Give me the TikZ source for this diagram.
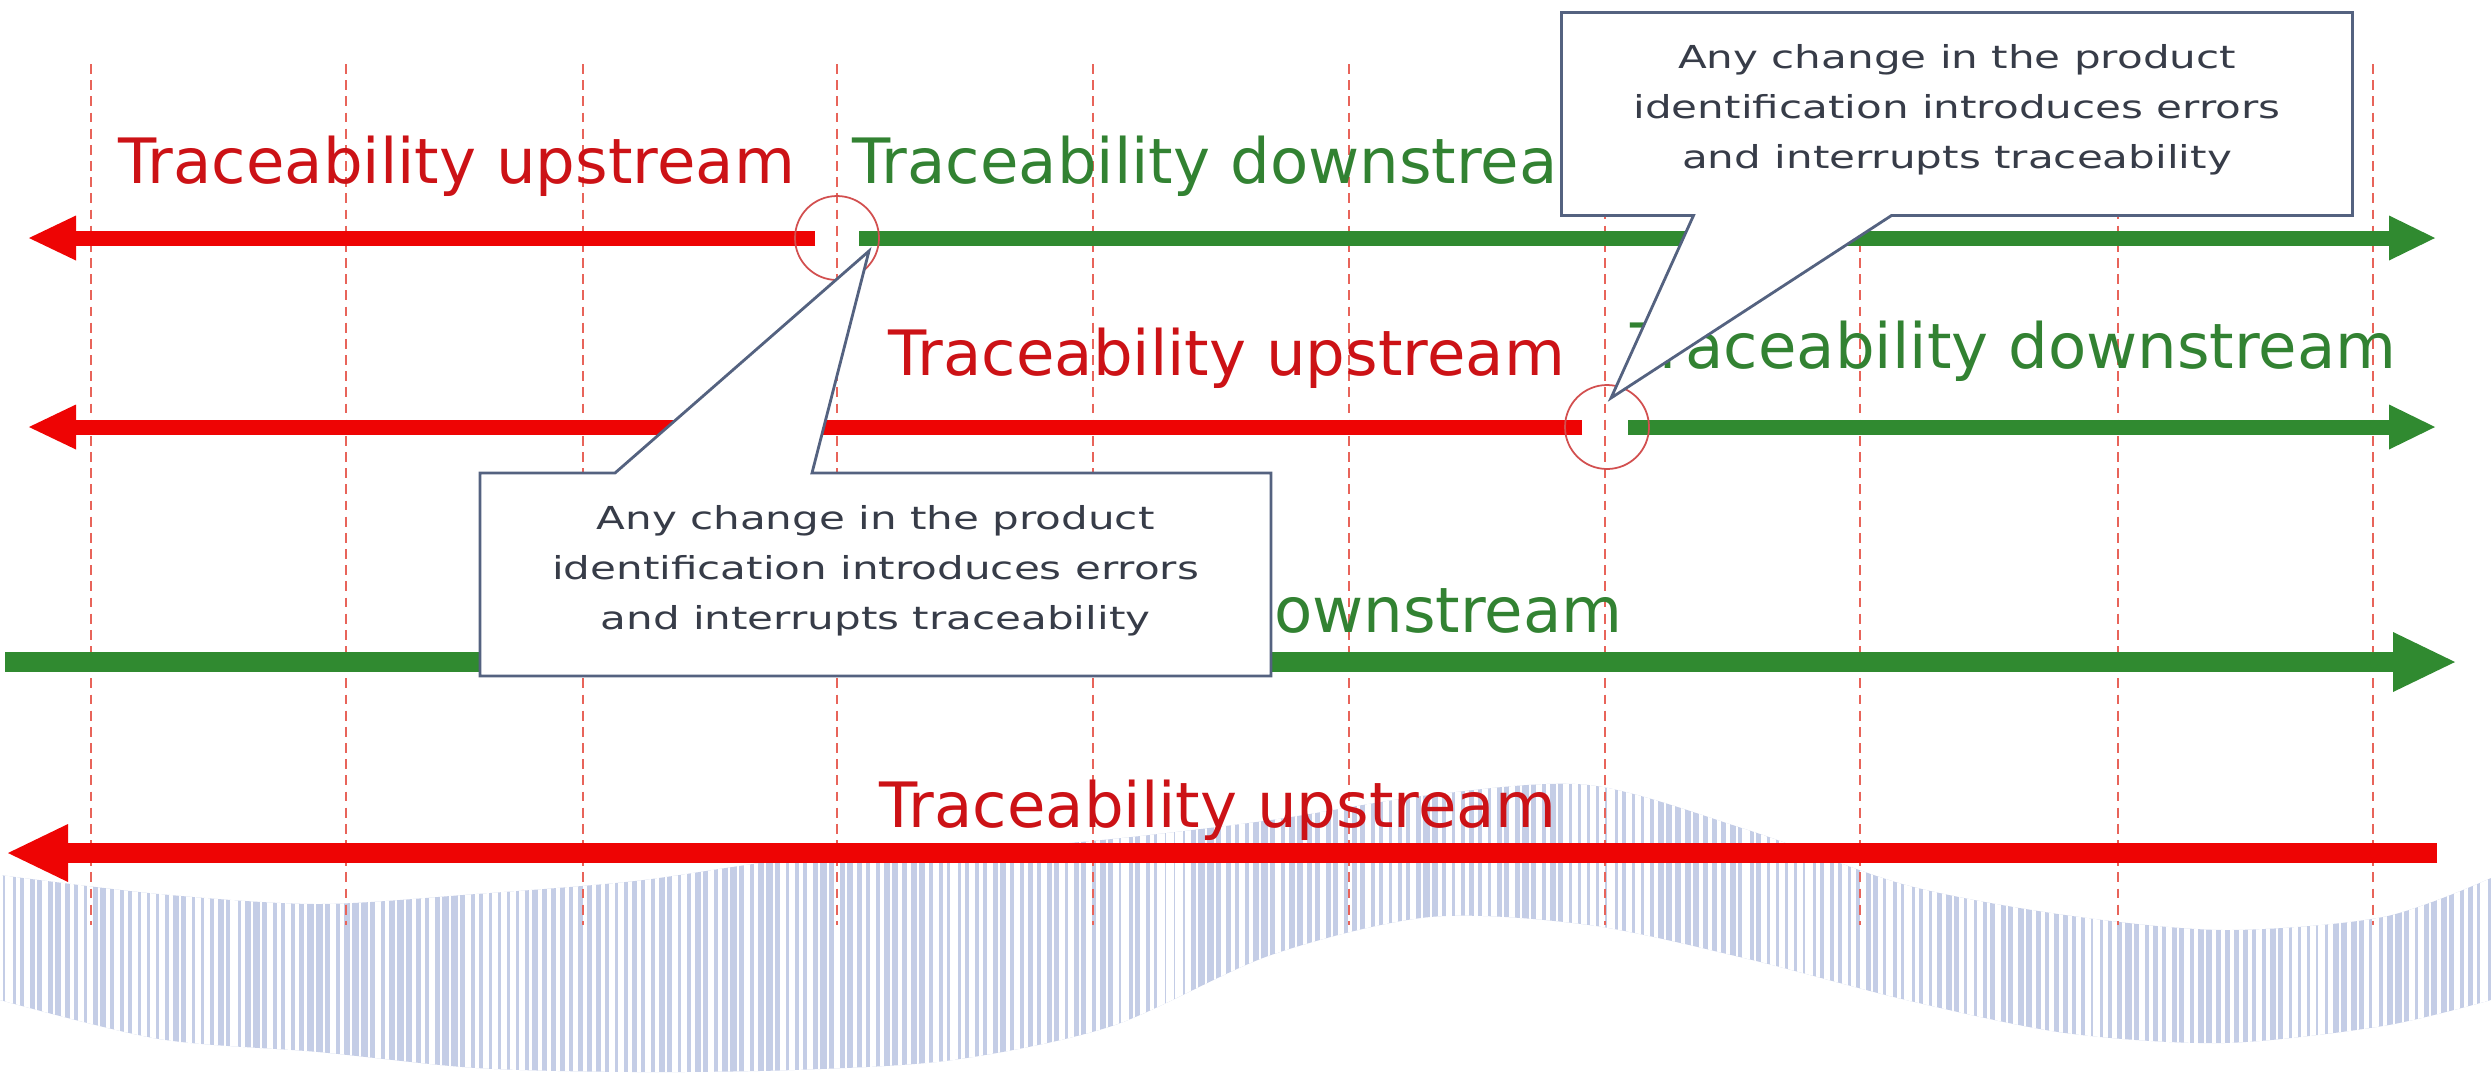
\documentclass[tikz,border=0pt]{standalone}
\usepackage{fontspec}
\setmainfont{DejaVu Sans}
\newfontfamily\notefont[FakeStretch=1.33]{DejaVu Sans}
\usetikzlibrary{arrows.meta,calc}
\definecolor{upred}{RGB}{238,4,4}
\definecolor{uptext}{RGB}{204,18,22}
\definecolor{downgreen}{RGB}{48,138,48}
\definecolor{downtext}{RGB}{50,130,50}
\definecolor{gridred}{RGB}{232,100,90}
\definecolor{noteedge}{RGB}{84,98,128}
\definecolor{notetextc}{RGB}{55,60,72}
\definecolor{codeband}{RGB}{196,205,230}
\newcommand{\tUp}{Traceability upstream}
\newcommand{\tDown}{Traceability downstream}
\newcommand{\tNote}{Any change in the product\\identification introduces errors\\and interrupts traceability}
\tikzset{
	upline/.style={draw=upred,line width=1.5mm,-{Triangle[length=4.7mm,width=4.5mm,line width=0pt]}},
	downline/.style={draw=downgreen,line width=1.5mm,-{Triangle[length=4.6mm,width=4.5mm,line width=0pt]}},
	wideup/.style={draw=upred,line width=2mm,-{Triangle[length=6mm,width=5.8mm,line width=0pt]}},
	widedown/.style={draw=downgreen,line width=2mm,-{Triangle[length=6.2mm,width=6mm,line width=0pt]}},
	gridline/.style={draw=gridred,line width=0.6pt,dash pattern=on 2.8pt off 1.8pt},
	uplabel/.style={text=uptext,inner sep=0pt,font=\fontsize{17.8}{20}\selectfont},
	downlabel/.style={text=downtext,inner sep=0pt,font=\fontsize{17.8}{20}\selectfont},
	breakmark/.style={circle,draw=upred!80!black!70,line width=0.5pt,minimum size=8.4mm,inner sep=0pt},
	notebox/.style={minimum width=7.91cm,minimum height=2.03cm,inner sep=0pt,outer sep=0pt},
	callout/.style={fill=white,draw=noteedge,line width=0.8pt,line join=miter},
	notetext/.style={text=notetextc,align=center,inner sep=0pt,font=\notefont\fontsize{9}{14.2}\selectfont}
}
\begin{document}
\begin{tikzpicture}[y=-1cm]
	\useasboundingbox (0,0) rectangle (24.91,10.76);
	\begin{scope}
		\clip plot[smooth] coordinates {(0,8.75) (1.59,8.94) (3.18,9.04) (4.76,8.94) (6.35,8.81) (7.94,8.59) (9.53,8.52) (11.12,8.39) (12.71,8.2) (14.3,7.95) (15.89,7.85) (17.48,8.3) (19.06,8.85) (20.65,9.15) (22.24,9.3) (23.83,9.17) (24.91,8.78)}
			-- plot[smooth] coordinates {(24.91,10.0) (23.83,10.26) (22.24,10.43) (20.65,10.33) (19.06,10.0) (17.48,9.59) (15.89,9.25) (14.3,9.17) (12.71,9.55) (11.12,10.26) (9.53,10.6) (7.94,10.7) (6.35,10.72) (4.76,10.68) (3.18,10.52) (1.59,10.39) (0,10.0)} -- cycle;
		\fill[codeband] (0,7.5) rectangle (24.91,10.76);
		\pgfmathsetseed{11}
		\foreach \i in {0,...,276}
			{\pgfmathsetmacro{\w}{0.5+1.6*rnd}
			\draw[white,line width=\w pt] (0.09*\i,7.5) -- (0.09*\i,10.8);}
	\end{scope}

	\foreach \x in {0.91,3.46,5.83,8.37,10.93,13.49,16.05,18.60,21.18,23.73}
		\draw[gridline] (\x,0.64) -- (\x,9.25);

	\coordinate (cutA) at (8.37,2.38);
	\coordinate (cutB) at (16.07,4.27);
	\coordinate (upA) at (0.29,2.38);
	\coordinate (downA) at (24.35,2.38);
	\coordinate (upB) at (0.29,4.27);
	\coordinate (downB) at (24.35,4.27);
	\coordinate (startC) at (0.05,6.62);
	\coordinate (downC) at (24.55,6.62);
	\coordinate (startD) at (24.37,8.53);
	\coordinate (upD) at (0.08,8.53);

	\draw[upline] ([xshift=-2.2mm]cutA) -- (upA);
	\draw[downline] ([xshift=2.2mm]cutA) -- (downA);
	\draw[upline] ([xshift=-2.5mm]cutB) -- (upB);
	\draw[downline] ([xshift=2.1mm]cutB) -- (downB);
	\draw[widedown] (startC) -- (downC);
	\draw[wideup] (startD) -- (upD);

	\node[breakmark] (breakA) at (cutA) {};
	\node[breakmark] (breakB) at (cutB) {};

	\node[uplabel,anchor=base west] (upTextA) at (1.18,1.83) {\tUp};
	\node[downlabel,anchor=base west] (downTextA) at (8.52,1.83) {\tDown};
	\node[uplabel,anchor=base west] (upTextB) at (8.88,3.75) {\tUp};
	\node[downlabel,anchor=base west] (downTextB) at (16.30,3.68) {\tDown};
	\node[downlabel,anchor=base east] (downTextC) at (16.23,6.32) {\tDown};
	\node[uplabel,anchor=base west] (upTextD) at (8.79,8.27) {\tUp};

	\node[notebox] (noteA) at (8.755,5.745) {};
	\filldraw[callout] (noteA.north west) -- ($(noteA.north west)+(1.35,0)$) -- ($(breakA)+(0.32,0.13)$)
		-- ($(noteA.north west)+(3.32,0)$) -- (noteA.north east) -- (noteA.south east) -- (noteA.south west) -- cycle;
	\node[notetext] (noteTextA) at ([yshift=0.4mm]noteA) {\tNote};

	\node[notebox] (noteB) at (19.57,1.14) {};
	\filldraw[callout] (noteB.south west) -- ($(noteB.south west)+(1.32,0)$) -- ($(breakB)+(0.04,-0.29)$)
		-- ($(noteB.south west)+(3.30,0)$) -- (noteB.south east) -- (noteB.north east) -- (noteB.north west) -- cycle;
	\node[notetext] (noteTextB) at ([yshift=0.4mm]noteB) {\tNote};
\end{tikzpicture}
\end{document}
